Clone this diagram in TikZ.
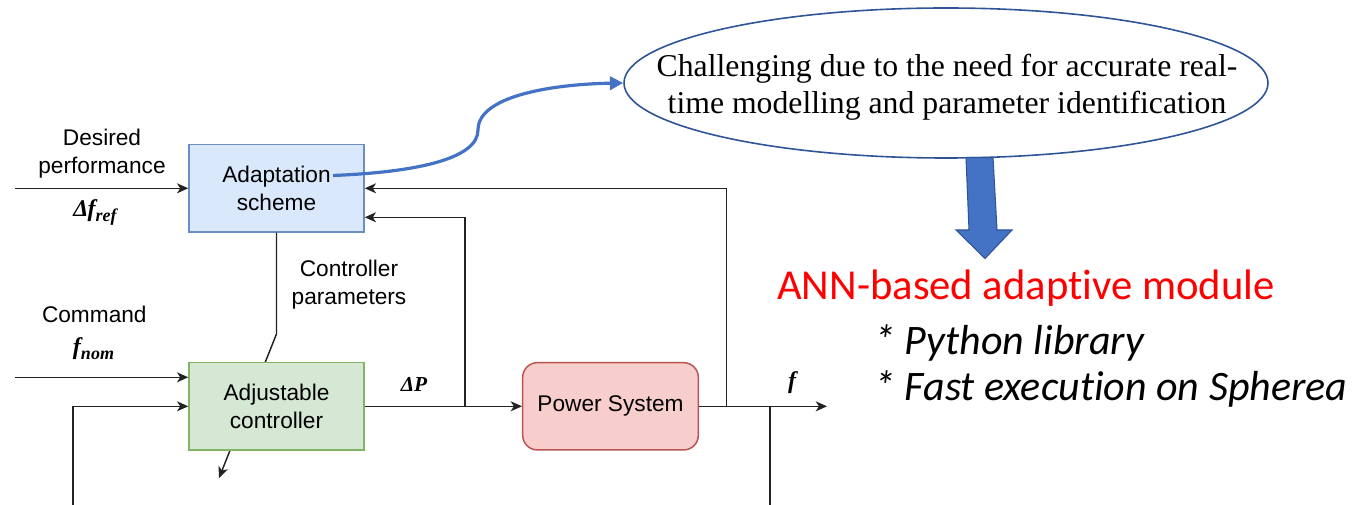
\documentclass[tikz,border=0pt]{standalone}
\usepackage{fontspec}
\setmainfont{Liberation Sans}
\newfontfamily\seriffont{Liberation Serif}
\newfontfamily\califont[Ligatures=NoCommon]{Carlito}
\usetikzlibrary{arrows.meta,shapes.geometric,calc}

\definecolor{adaptfill}{HTML}{DAE8FC}
\definecolor{adaptdraw}{HTML}{6C8EBF}
\definecolor{ctrlfill}{HTML}{D5E8D4}
\definecolor{ctrldraw}{HTML}{82B366}
\definecolor{psfill}{HTML}{F8CECC}
\definecolor{psdraw}{HTML}{B85450}
\definecolor{curveblue}{HTML}{4472C4}
\definecolor{elldraw}{HTML}{2F5597}
\definecolor{wirecol}{HTML}{222222}

\newcommand{\lowsub}[1]{\raisebox{-3.8pt}{\fontsize{13.5}{13.5}\selectfont #1}}

\begin{document}
\begin{tikzpicture}[x=0.75pt,y=-0.75pt,
  block/.style={draw, line width=1.1pt, minimum width=131.25pt,
    minimum height=65.5pt, inner sep=0pt, align=center,
    font=\fontsize{17}{21.2}\selectfont},
  lbl/.style={inner sep=0pt, align=center, font=\fontsize{17}{21.2}\selectfont},
  mlbl/.style={inner sep=0pt, font=\seriffont\bfseries\itshape\fontsize{18}{18}\selectfont},
  wire/.style={line width=1.1pt, draw=wirecol},
  sig/.style={wire, -{Stealth[length=8.5pt,width=7.5pt,inset=2.5pt]}},
  bluecurve/.style={line width=2.4pt, draw=curveblue,
    -{Triangle[length=10pt,width=10pt]}},
  bigarrow/.style={fill=curveblue, draw=elldraw, line width=0.8pt},
  annfont/.style={inner sep=0pt, font=\califont\fontsize{32}{32}\selectfont},
  itemfont/.style={inner sep=0pt, font=\califont\itshape\fontsize{31.5}{32}\selectfont}
]
\useasboundingbox (0,0) rectangle (1358,505);

% adaptation block and the adjustment arrow that crosses the controller
\node[block, fill=adaptfill, draw=adaptdraw] (adapt) at (276.5,188.3) {Adaptation\\scheme};
\coordinate (kink) at (276.5,334);
\coordinate (adjtip) at (219,478);
\draw[sig] (adapt.south) -- (kink) -- (adjtip);

\node[block, fill=ctrlfill, draw=ctrldraw] (ctrl) at (276.5,406.3) {Adjustable\\controller};
\node[block, rounded corners=11pt, fill=psfill, draw=psdraw,
      minimum width=131.7pt] (ps) at (610.5,406.3) {Power System};

% inputs
\coordinate (dpin) at (15,188.3);
\coordinate (cmdin) at (15,377.3);
\coordinate (fbl) at (73,505);
\draw[sig] (dpin) -- (adapt.west);
\draw[sig] (cmdin) -- (cmdin -| ctrl.west);
\draw[sig] (fbl) |- (ctrl.west);

% forward path and feedback branches
\coordinate (br1) at (465,406.3);
\coordinate (br2) at (726.7,406.3);
\coordinate (br3) at (770,406.3);
\coordinate (out) at (827,406.3);
\coordinate (bot) at (770,505);
\draw[sig] (ctrl.east) -- (ps.west);
\draw[sig] (br1) |- ($(adapt.east)+(0,29)$);
\draw[sig] (ps.east) -- (out);
\draw[sig] (br2) |- (adapt.east);
\draw[wire] (br3) -- (bot);

% labels
\node[lbl] (dplabel) at (102,153.3) {Desired\\performance};
\node[mlbl, anchor=base] (fref) at (95,216.5) {Δ\kern-0.5pt f\lowsub{ref}};
\node[lbl, anchor=base] (cmd) at (94.3,322.5) {Command};
\node[mlbl, anchor=base] (fnom) at (93.5,354) {f\lowsub{nom}};
\node[lbl] (cp) at (349,284.5) {Controller\\parameters};
\node[mlbl, anchor=base, font=\seriffont\bfseries\itshape\fontsize{16}{16}\selectfont] (dp) at (414,392) {ΔP};
\node[mlbl, anchor=base] (flbl) at (792,388) {f};

% callout ellipse
\node[ellipse, draw=elldraw, line width=1.2pt, minimum width=483pt,
      minimum height=112.5pt, inner sep=0pt] (ell) at (946,83) {};
\node[inner sep=0pt, align=center,
      font=\seriffont\fontsize{23.8}{28}\selectfont] (elltxt) at (947,87)
  {Challenging due to the need for accurate real-\\time modelling and parameter identification};

\coordinate (cstart) at (333,175.5);
\draw[bluecurve] (cstart) .. controls (420,172) and (478,158) .. (478,130)
  .. controls (478,94) and (560,84) .. (ell.west);

% thick down arrow
\draw[bigarrow] (966,157.5) -- (993,157.5) -- (997,230) -- (1012,230) -- (985,258.5)
  -- (956,230) -- (969,230) -- cycle;

% result text
\node[annfont, text=red, anchor=base west] (ann) at (777,300) {ANN-based adaptive module};
\node[itemfont, anchor=base west] (py) at (874,355) {* Python library};
\node[itemfont, anchor=base west] (fast) at (874,400) {* Fast execution on Spherea};
\end{tikzpicture}
\end{document}
